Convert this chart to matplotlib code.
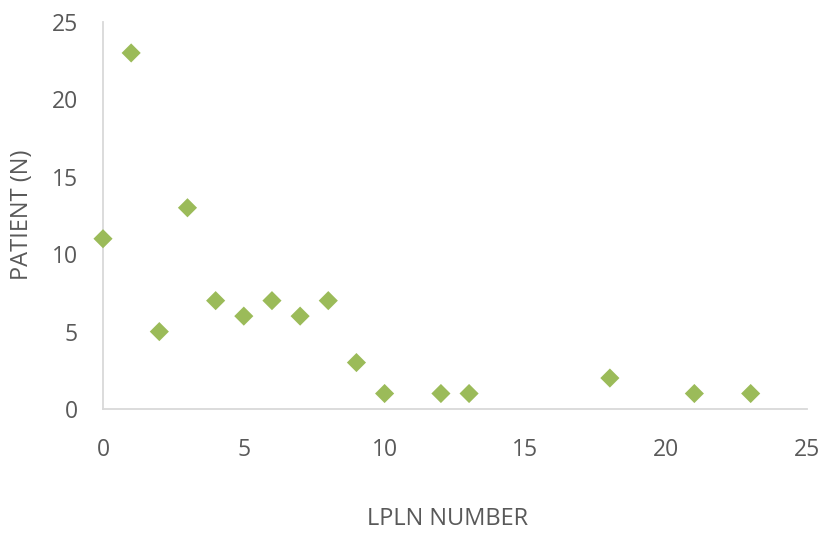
import matplotlib
matplotlib.use("Agg")
import matplotlib.pyplot as plt

# LPLN count vs number of patients
lpln_number = [0, 1, 2, 3, 4, 5, 6, 7, 8, 9, 10, 12, 13, 18, 21, 23]
patients = [11, 23, 5, 13, 7, 6, 7, 6, 7, 3, 1, 1, 1, 2, 1, 1]
x_ticks = [0, 5, 10, 15, 20, 25]
y_ticks = [0, 5, 10, 15, 20, 25]

plt.rcParams['font.family'] = ['Open Sans', 'DejaVu Sans']
text_color = '#595959'
axis_color = '#D9D9D9'
marker_color = '#9BBB59'

W, H = 821, 534
fig = plt.figure(figsize=(W / 100, H / 100), dpi=100)
ax = fig.add_axes([103 / W, 1 - 409 / H, (807 - 103) / W, (409 - 22) / H])

ax.scatter(lpln_number, patients, marker='D', s=95, color=marker_color,
           edgecolors='none', zorder=3, clip_on=False)

ax.set_xlim(0, 25)
ax.set_ylim(0, 25)
ax.set_xticks(x_ticks)
ax.set_yticks(y_ticks)
ax.set_xticklabels([str(v) for v in x_ticks])
ax.set_yticklabels([str(v) for v in y_ticks])

for side in ('top', 'right'):
    ax.spines[side].set_visible(False)
for side in ('left', 'bottom'):
    ax.spines[side].set_color(axis_color)
    ax.spines[side].set_linewidth(1.3)

ax.tick_params(axis='both', length=0, labelsize=16.5, labelcolor=text_color)
ax.tick_params(axis='x', pad=21)
ax.tick_params(axis='y', pad=18)

fig.text(448 / W, 1 - 519 / H, 'LPLN NUMBER', fontsize=17, color=text_color,
         ha='center', va='center')
fig.text(22 / W, 1 - 215 / H, 'PATIENT (N)', fontsize=17, color=text_color,
         ha='center', va='center', rotation=90)

fig.savefig('out.png', dpi=100)
